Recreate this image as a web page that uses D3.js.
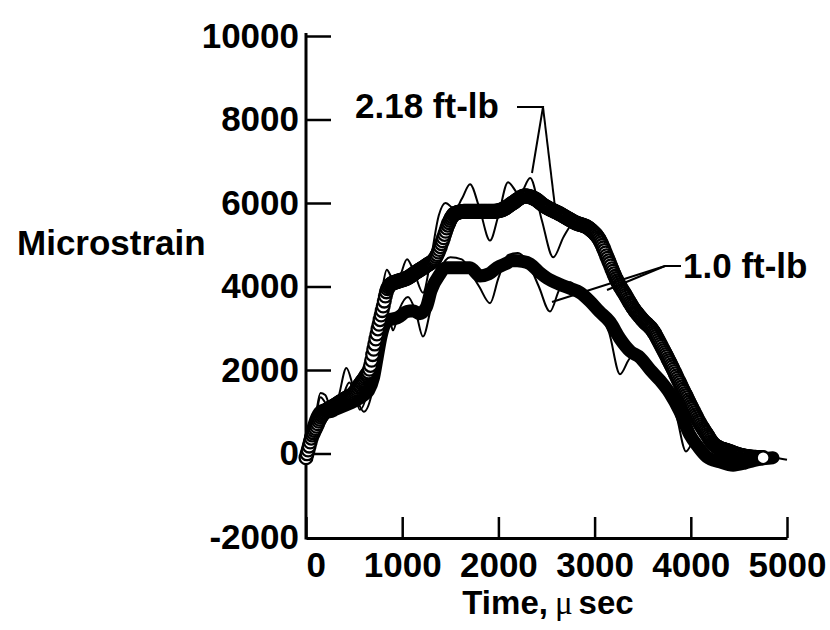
<!DOCTYPE html>
<html>
<head>
<meta charset="utf-8">
<script src="https://cdn.jsdelivr.net/npm/d3@7"></script>
<style>
  body { margin: 0; background: #fff; }
  svg text { font-family: "Liberation Sans", Arial, Helvetica, sans-serif; font-weight: bold; fill: #000; }
</style>
</head>
<body>
<svg id="chart" width="830" height="630"></svg>
<script>
// Axis ticks
const xTicks = [0, 1000, 2000, 3000, 4000, 5000];
const yTicks = [-2000, 0, 2000, 4000, 6000, 8000, 10000];

// 2.18 ft-lb impact, measured strain (open-circle trace)
const meas218Time   = [0, 30, 60, 100, 150, 200, 300, 400, 500, 560, 620, 665, 700, 750, 800, 840, 880, 950, 1050, 1150, 1250, 1350, 1420, 1480, 1550, 1650, 1800, 1950, 2050, 2150, 2280, 2380, 2480, 2640, 2800, 2950, 3056, 3140, 3233, 3320, 3400, 3500, 3607, 3700, 3800, 3888, 4000, 4096, 4170, 4231, 4300, 4376, 4500, 4650, 4760];
const meas218Strain = [-100, 150, 400, 600, 850, 1000, 1150, 1300, 1450, 1650, 1850, 2050, 2450, 3000, 3500, 3900, 4050, 4120, 4200, 4350, 4500, 4700, 5100, 5500, 5750, 5800, 5800, 5800, 5850, 6000, 6170, 6100, 5930, 5740, 5530, 5380, 5100, 4650, 4140, 3800, 3490, 3200, 2940, 2550, 2100, 1675, 1150, 718, 450, 240, 130, 72, -30, -90, -100];

// 2.18 ft-lb impact, predicted strain (thin line)
const pred218Time   = [0, 50, 100, 150, 200, 260, 330, 420, 490, 560, 640, 720, 790, 840, 900, 960, 1050, 1130, 1216, 1300, 1380, 1450, 1550, 1620, 1705, 1800, 1913, 2000, 2100, 2220, 2330, 2450, 2570, 2680, 2800, 2900, 3000, 3100, 3200, 3300, 3400, 3500, 3600, 3700, 3800, 3900, 4000, 4100, 4200, 4300, 4400, 4500, 4700, 4850, 5000];
const pred218Strain = [-50, 350, 900, 1450, 1400, 1100, 1300, 2050, 1600, 1050, 1500, 2700, 3900, 4400, 4200, 4200, 4650, 4300, 3850, 4700, 5700, 6000, 5850, 6100, 6450, 5900, 5100, 5700, 6500, 6200, 6600, 5600, 4700, 5200, 5550, 5350, 5300, 4900, 4300, 3900, 3500, 3200, 2950, 2450, 2050, 1500, 1000, 600, 250, 50, -50, -80, -100, -100, -150];

// 1.0 ft-lb impact, measured strain (heavy trace)
const meas10Time   = [0, 30, 60, 100, 150, 200, 250, 300, 400, 500, 600, 650, 700, 740, 780, 820, 870, 950, 1050, 1112, 1180, 1250, 1300, 1393, 1450, 1550, 1650, 1705, 1810, 1900, 1985, 2080, 2150, 2250, 2330, 2420, 2505, 2640, 2750, 2850, 2950, 3050, 3160, 3264, 3370, 3472, 3580, 3680, 3780, 3888, 3990, 4080, 4168, 4300, 4440, 4560, 4650, 4770, 4854];
const meas10Strain = [-100, 200, 500, 800, 1000, 1050, 1000, 1050, 1150, 1250, 1400, 1500, 1800, 2300, 2800, 3100, 3200, 3250, 3400, 3420, 3350, 3500, 3900, 4300, 4450, 4450, 4450, 4450, 4250, 4300, 4450, 4550, 4620, 4600, 4540, 4350, 4200, 4050, 3950, 3850, 3650, 3400, 3150, 2750, 2450, 2300, 2000, 1750, 1450, 1000, 450, 150, -80, -200, -280, -230, -170, -120, -100];

// 1.0 ft-lb impact, predicted strain (thin line)
const pred10Time   = [0, 50, 100, 150, 220, 300, 380, 450, 520, 600, 680, 750, 820, 880, 905, 970, 1060, 1140, 1216, 1300, 1400, 1500, 1620, 1720, 1800, 1913, 2000, 2100, 2200, 2300, 2420, 2536, 2640, 2750, 2850, 2950, 3050, 3150, 3264, 3380, 3472, 3580, 3680, 3780, 3850, 3950, 4050, 4120, 4200, 4350, 4500, 4650, 4800, 4900];
const pred10Strain = [-50, 350, 850, 1350, 1150, 950, 1350, 1700, 1350, 1000, 1400, 2500, 3250, 3100, 2950, 3450, 3750, 3400, 2800, 3500, 4400, 4700, 4650, 4300, 4000, 3600, 4200, 4750, 4800, 4600, 4000, 3400, 3950, 4100, 3800, 3700, 3350, 2900, 1900, 2300, 2250, 2000, 1700, 1300, 900, 50, 350, 100, -100, -250, -250, -180, -120, -100];

// Marker sampling period of the recorded 2.18 ft-lb trace (μs)
const sampleStep = 11;

const svg = d3.select("#chart");
const x = d3.scaleLinear().domain([0, 5000]).range([306, 787]);
const y = d3.scaleLinear().domain([-2000, 10000]).range([537, 36]);

const pairs = (ts, vs) => ts.map((t, i) => [t, vs[i]]);
const mkLine = d3.line().x(d => x(d[0])).y(d => y(d[1])).curve(d3.curveMonotoneX);

// Axes: ticks point into the plot; labels use a plain hyphen for negatives
const yAxis = d3.axisLeft(y).tickValues(yTicks).tickFormat(d => String(d))
  .tickSizeInner(-25).tickSizeOuter(0).tickPadding(7);
const xAxis = d3.axisBottom(x).tickValues(xTicks).tickFormat(d => String(d))
  .tickSizeInner(-21).tickSizeOuter(0).tickPadding(14);

const gy = svg.append("g").attr("transform", `translate(${x(0)},0)`).call(yAxis);
const gx = svg.append("g").attr("transform", `translate(0,${y(-2000) + 1})`).call(xAxis);
[gx, gy].forEach(g => {
  g.select(".domain").attr("stroke", "#000").attr("stroke-width", 3);
  g.selectAll(".tick line").attr("stroke", "#000").attr("stroke-width", 2.5);
  g.selectAll(".tick text").attr("font-size", 35).attr("fill", "#000")
    .style("font-family", "'Liberation Sans', Arial, sans-serif").style("font-weight", "bold");
});
gy.select(".domain").attr("d", `M0,${y(10000) - 3}V${y(-2000) + 2.5}`);
gy.selectAll(".tick").filter(d => d === -2000).select("line").remove();
gx.selectAll(".tick").filter(d => d === 0).select("text").attr("text-anchor", "start").attr("x", 0);

// Predicted responses (thin lines)
const plot = svg.append("g");
plot.append("path").datum(pairs(pred10Time, pred10Strain))
  .attr("d", mkLine).attr("fill", "none").attr("stroke", "#000").attr("stroke-width", 2);
plot.append("path").datum(pairs(pred218Time, pred218Strain))
  .attr("d", mkLine).attr("fill", "none").attr("stroke", "#000").attr("stroke-width", 2);

// 1.0 ft-lb measured: heavy solid trace
plot.append("path").datum(pairs(meas10Time, meas10Strain))
  .attr("d", mkLine).attr("fill", "none").attr("stroke", "#000")
  .attr("stroke-width", 13).attr("stroke-linejoin", "round").attr("stroke-linecap", "round");

// 2.18 ft-lb measured: open circles at each sample along the trace
const guide = plot.append("path").datum(pairs(meas218Time, meas218Strain))
  .attr("d", mkLine).attr("fill", "none").attr("stroke", "none");
const node = guide.node();
const total = node.getTotalLength();
const pts = [];
for (let s = 0; s <= total; s += 0.25) pts.push(node.getPointAtLength(s));
const last = meas218Time[meas218Time.length - 1];
const markers = [];
let k = 0;
for (let t = 0; t <= last; t += sampleStep) {
  const px = x(t);
  while (k < pts.length - 1 && pts[k].x < px) k++;
  markers.push([px, pts[k].y]);
}
plot.append("g").selectAll("circle").data(markers).join("circle")
  .attr("cx", d => d[0]).attr("cy", d => d[1]).attr("r", 6.4)
  .attr("fill", "#fff").attr("stroke", "#000").attr("stroke-width", 2.3);

// Labels
svg.append("text").attr("x", 17).attr("y", 255).attr("font-size", 35).text("Microstrain");

const xt = svg.append("text").attr("x", 548).attr("y", 614).attr("font-size", 33).attr("text-anchor", "middle");
xt.append("tspan").text("Time,");
xt.append("tspan").attr("dx", 7).style("font-family", "'Liberation Serif', 'DejaVu Serif', serif").style("font-weight", "normal").text("μ");
xt.append("tspan").attr("dx", 6).text("sec");

// Series callouts
svg.append("text").attr("x", 355).attr("y", 118).attr("font-size", 35).text("2.18 ft-lb");
svg.append("text").attr("x", 683).attr("y", 278).attr("font-size", 35).text("1.0 ft-lb");

const leader = (pts) => svg.append("path").attr("d", d3.line()(pts))
  .attr("fill", "none").attr("stroke", "#000").attr("stroke-width", 2);
leader([[517, 107], [543, 107], [532, 173]]);
leader([[543, 107], [555, 207]]);
leader([[681, 266], [665, 266], [552, 302]]);
leader([[665, 266], [607, 290]]);
</script>
</body>
</html>
